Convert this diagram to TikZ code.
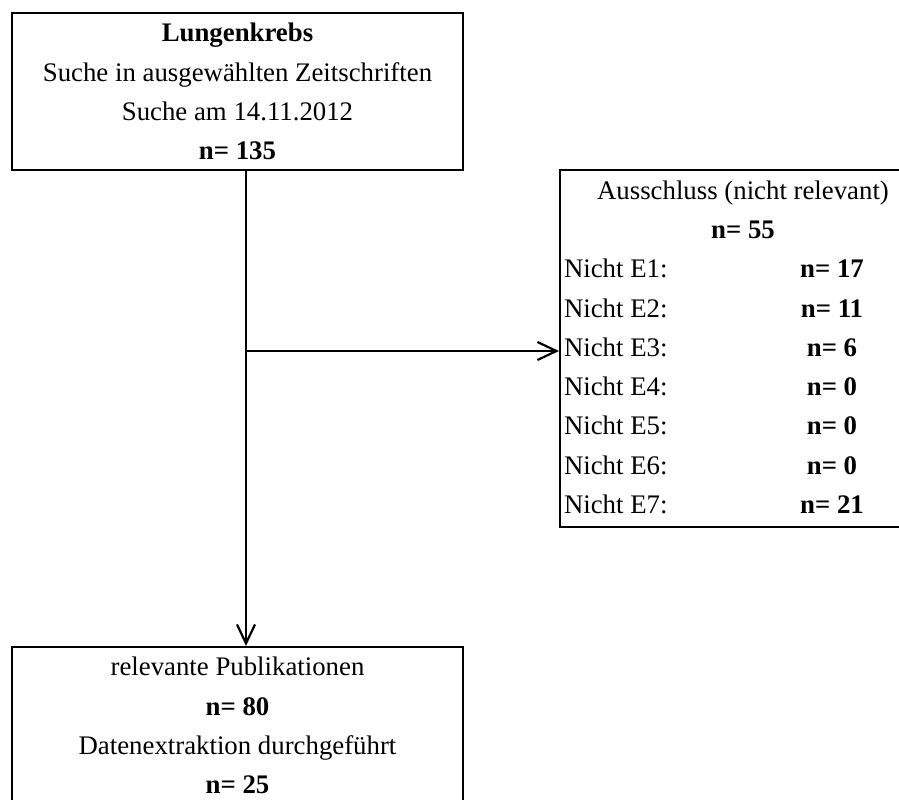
\documentclass[tikz,border=0pt]{standalone}
\usepackage{fontspec}
\setmainfont{Liberation Serif}
\usepackage{array}
\usetikzlibrary{positioning,arrows.meta}

\begin{document}
\begin{tikzpicture}[x=0.5pt,y=-0.5pt,>={Straight Barb[length=9.5pt,width=9pt]},
  font=\fontsize{13.4}{19.65}\selectfont,
  box/.style={draw,line width=1pt,align=center,minimum width=225.5pt,minimum height=78.5pt,inner sep=0pt},
  list/.style={draw,line width=1pt,inner xsep=2pt,inner ysep=1pt}]
  \clip (0,0) rectangle (899,799);
  \node[box] (search) at (237.5,91.5) {\textbf{Lungenkrebs}\\Suche in ausgewählten Zeitschriften\\Suche am 14.11.2012\\\textbf{n= 135}};
  \node[box,below=237.5pt of search] (result) {relevante Publikationen\\\textbf{n= 80}\\Datenextraktion durchgeführt\\\textbf{n= 25}};
  \node[list,right=47.5pt of search,yshift=-128.5pt] (excl) {\begin{tabular}{@{}p{89pt}@{}>{\centering\arraybackslash}p{90pt}@{}}
    \multicolumn{2}{@{}c@{}}{Ausschluss (nicht relevant)}\\
    \multicolumn{2}{@{}c@{}}{\textbf{n= 55}}\\
    Nicht E1: & \textbf{n= 17}\\
    Nicht E2: & \textbf{n= 11}\\
    Nicht E3: & \textbf{n= 6}\\
    Nicht E4: & \textbf{n= 0}\\
    Nicht E5: & \textbf{n= 0}\\
    Nicht E6: & \textbf{n= 0}\\
    Nicht E7: & \textbf{n= 21}
  \end{tabular}};
  \coordinate (split) at (246,351);
  \draw[->,line width=1.1pt] (search.south -| split) -- (result.north -| split);
  \draw[->,line width=1.1pt] (split) -- (excl.west |- split);
\end{tikzpicture}
\end{document}
